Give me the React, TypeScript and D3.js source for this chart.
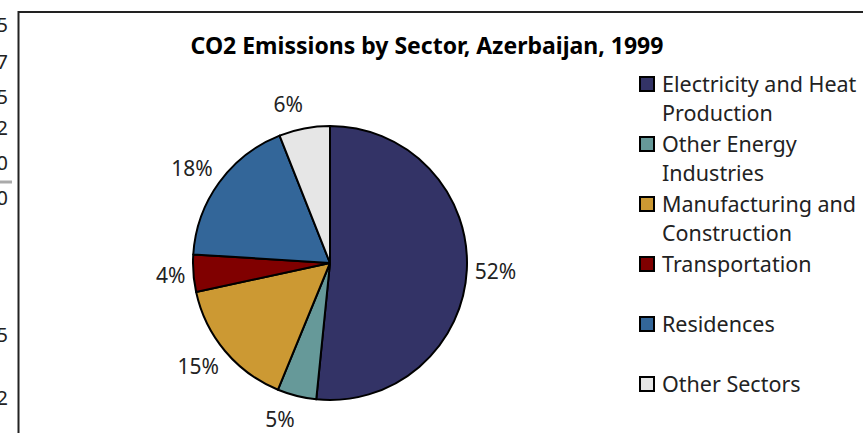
import React from "react";
import * as d3 from "d3";

const categories = [
  "Electricity and Heat Production",
  "Other Energy Industries",
  "Manufacturing and Construction",
  "Transportation",
  "Residences",
  "Other Sectors",
];
const legendLines = [
  ["Electricity and Heat", "Production"],
  ["Other Energy", "Industries"],
  ["Manufacturing and", "Construction"],
  ["Transportation"],
  ["Residences"],
  ["Other Sectors"],
];
const values = [51.6, 4.6, 15.4, 4.4, 18.0, 6.0];
const colors = ["#333366", "#669999", "#CC9933", "#800000", "#336699", "#E6E6E6"];
const title = "CO2 Emissions by Sector, Azerbaijan, 1999";
// fragments of a neighbouring chart's axis labels, cut by the left edge
const edgeDigits = ["5", "7", "5", "2", "0", "0", "5", "2"];
const edgeDigitY = [25, 62, 97, 128, 163, 198, 335, 398];

const W = 863;
const H = 433;
const cx = 330;
const cy = 263;
const R = 137;
const FONT = "'Noto Sans', 'Open Sans', sans-serif";

export default function App() {
  const total = d3.sum(values);
  const pie = d3
    .pie<number>()
    .sort(null)
    .startAngle(0)
    .endAngle(2 * Math.PI)
    .value((d) => d);
  const arcs = pie(values);
  const arc = d3.arc<d3.PieArcDatum<number>>().innerRadius(0).outerRadius(R);
  const gapX = 8;
  const gapY = 24;

  const legendY = d3.scaleLinear().domain([0, 1]).range([84, 144]);

  return (
    <div style={{ position: "fixed", left: 0, top: 0, width: W, height: H, background: "#fff" }}>
      <svg width={W} height={H} style={{ display: "block" }}>
        <rect x={0} y={0} width={W} height={H} fill="#fff" />
        {/* neighbouring chart fragments */}
        {edgeDigits.map((d, i) => (
          <text
            key={"e" + i}
            x={8}
            y={edgeDigitY[i] + 7}
            textAnchor="end"
            fontFamily={FONT}
            fontSize={20}
            fill="#222"
          >
            {d}
          </text>
        ))}
        <line x1={0} x2={12} y1={182} y2={182} stroke="#aaa" strokeWidth={3} />
        {/* chart frame */}
        <path
          d={`M18.5,${H + 5} L18.5,12 L${W + 5},12`}
          fill="none"
          stroke="#222"
          strokeWidth={2}
        />
        <text
          x={427}
          y={54}
          textAnchor="middle"
          fontFamily={FONT}
          fontWeight="bold"
          fontSize={23}
          fill="#000"
        >
          {title}
        </text>
        <g transform={`translate(${cx},${cy})`}>
          {arcs.map((a, i) => (
            <path
              key={"s" + i}
              d={arc(a) || ""}
              fill={colors[i]}
              stroke="#000"
              strokeWidth={2}
              strokeLinejoin="round"
            />
          ))}
          {arcs.map((a, i) => {
            const mid = (a.startAngle + a.endAngle) / 2;
            const s = Math.sin(mid);
            const c = Math.cos(mid);
            const lx = (R + gapX) * s;
            const ly = -(R + gapY) * c;
            return (
              <text
                key={"l" + i}
                x={lx}
                y={ly}
                dy="0.36em"
                textAnchor={s >= 0 ? "start" : "end"}
                fontFamily={FONT}
                fontSize={21}
                fill="#222"
              >
                {Math.round((values[i] / total) * 100) + "%"}
              </text>
            );
          })}
        </g>
        <g>
          {categories.map((c, i) => {
            const y = legendY(i);
            return (
              <g key={"g" + i}>
                <rect
                  x={640}
                  y={y - 7}
                  width={14}
                  height={14}
                  fill={colors[i]}
                  stroke="#000"
                  strokeWidth={2}
                />
                <text fontFamily={FONT} fontSize={21.5} fill="#222">
                  {legendLines[i].map((t, j) => (
                    <tspan key={j} x={662} y={y + 7.5 + j * 29}>
                      {t}
                    </tspan>
                  ))}
                </text>
              </g>
            );
          })}
        </g>
      </svg>
    </div>
  );
}
